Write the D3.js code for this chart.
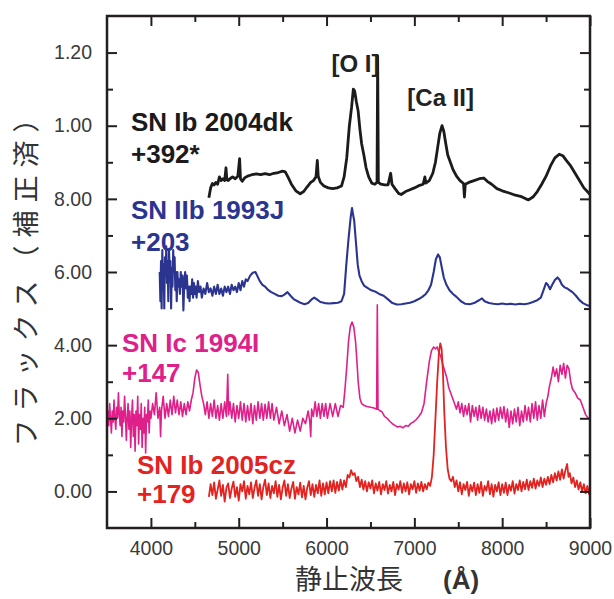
<!DOCTYPE html>
<html><head><meta charset="utf-8">
<script src="https://cdn.jsdelivr.net/npm/d3@7"></script>
<style>
html,body{margin:0;padding:0;background:#fff;}
svg{display:block;}
</style></head>
<body>
<svg id="chart" width="614" height="599"></svg>
<script>
// ---- data (wavelength Å, normalized flux) ----
const sn2004dk = [[4660,0.803],[4680,0.83],[4700,0.842],[4720,0.838],[4740,0.845],[4760,0.84],[4780,0.86],[4800,0.85],[4820,0.855],[4840,0.85],[4855,0.885],[4865,0.852],[4880,0.85],[4900,0.855],[4930,0.86],[4960,0.855],[4990,0.862],[5010,0.91],[5020,0.855],[5040,0.848],[5070,0.858],[5100,0.862],[5150,0.866],[5200,0.868],[5250,0.866],[5300,0.869],[5350,0.866],[5400,0.87],[5450,0.872],[5500,0.876],[5530,0.874],[5560,0.86],[5600,0.84],[5650,0.822],[5700,0.814],[5740,0.82],[5780,0.833],[5820,0.845],[5850,0.85],[5880,0.86],[5895,0.905],[5905,0.862],[5930,0.845],[5970,0.835],[6020,0.83],[6070,0.828],[6120,0.83],[6170,0.835],[6200,0.86],[6230,0.912],[6260,1.0],[6285,1.05],[6305,1.1],[6320,1.095],[6340,1.065],[6360,1.04],[6380,0.99],[6400,0.95],[6425,0.92],[6450,0.885],[6480,0.86],[6515,0.843],[6550,0.84],[6575,0.845],[6582,1.19],[6590,0.845],[6620,0.84],[6660,0.838],[6700,0.838],[6730,0.87],[6745,0.84],[6780,0.828],[6820,0.815],[6850,0.812],[6900,0.82],[6950,0.825],[7000,0.83],[7050,0.836],[7100,0.84],[7120,0.86],[7130,0.843],[7170,0.85],[7210,0.87],[7240,0.9],[7265,0.94],[7290,0.98],[7315,1.0],[7335,0.985],[7355,0.955],[7380,0.92],[7410,0.9],[7440,0.88],[7480,0.862],[7520,0.85],[7560,0.842],[7570,0.805],[7580,0.84],[7620,0.845],[7680,0.85],[7740,0.855],[7790,0.857],[7830,0.848],[7880,0.84],[7940,0.828],[8000,0.822],[8080,0.816],[8150,0.81],[8220,0.806],[8270,0.8],[8300,0.797],[8350,0.805],[8400,0.82],[8450,0.84],[8500,0.862],[8550,0.89],[8600,0.912],[8650,0.922],[8690,0.918],[8730,0.905],[8780,0.89],[8830,0.87],[8880,0.85],[8930,0.83],[8970,0.82],[9000,0.812]];

const sn1993J = [[4100,0.6],[4108,0.52],[4115,0.63],[4122,0.5],[4130,0.66],[4138,0.55],[4145,0.62],[4152,0.5],[4160,0.64],[4168,0.6],[4175,0.67],[4183,0.57],[4190,0.63],[4198,0.52],[4206,0.66],[4214,0.6],[4222,0.63],[4230,0.5],[4238,0.61],[4246,0.56],[4254,0.66],[4262,0.6],[4270,0.64],[4278,0.55],[4286,0.6],[4294,0.52],[4302,0.6],[4310,0.56],[4320,0.58],[4330,0.54],[4340,0.6],[4350,0.56],[4360,0.59],[4370,0.495],[4380,0.57],[4390,0.6],[4400,0.555],[4410,0.59],[4420,0.53],[4430,0.56],[4440,0.52],[4450,0.56],[4460,0.54],[4470,0.58],[4480,0.53],[4490,0.57],[4500,0.54],[4510,0.56],[4520,0.53],[4535,0.575],[4550,0.545],[4565,0.56],[4580,0.53],[4600,0.555],[4620,0.54],[4640,0.57],[4660,0.545],[4680,0.555],[4700,0.535],[4720,0.56],[4740,0.54],[4760,0.565],[4780,0.54],[4800,0.555],[4820,0.535],[4840,0.56],[4860,0.545],[4880,0.56],[4900,0.54],[4920,0.565],[4940,0.55],[4960,0.56],[4980,0.545],[5000,0.57],[5020,0.55],[5040,0.575],[5060,0.56],[5080,0.58],[5100,0.575],[5130,0.59],[5160,0.598],[5190,0.6],[5210,0.59],[5240,0.575],[5270,0.565],[5300,0.56],[5330,0.552],[5370,0.545],[5410,0.54],[5450,0.535],[5490,0.534],[5520,0.538],[5555,0.545],[5590,0.535],[5630,0.525],[5670,0.52],[5710,0.515],[5750,0.512],[5790,0.515],[5830,0.525],[5860,0.53],[5890,0.525],[5930,0.518],[5980,0.515],[6030,0.514],[6080,0.515],[6130,0.516],[6170,0.52],[6200,0.54],[6225,0.62],[6250,0.69],[6275,0.75],[6290,0.775],[6300,0.76],[6315,0.74],[6335,0.68],[6355,0.62],[6375,0.59],[6400,0.575],[6430,0.562],[6470,0.556],[6510,0.55],[6550,0.547],[6600,0.54],[6650,0.535],[6700,0.525],[6750,0.515],[6800,0.511],[6850,0.512],[6900,0.514],[6950,0.516],[7000,0.52],[7050,0.526],[7090,0.532],[7130,0.54],[7160,0.55],[7190,0.565],[7220,0.6],[7245,0.635],[7270,0.648],[7290,0.64],[7310,0.615],[7335,0.585],[7365,0.565],[7400,0.55],[7440,0.54],[7480,0.532],[7530,0.52],[7580,0.513],[7630,0.512],[7680,0.515],[7730,0.522],[7770,0.528],[7800,0.52],[7850,0.515],[7900,0.513],[7950,0.512],[8000,0.514],[8050,0.512],[8100,0.513],[8150,0.511],[8200,0.513],[8250,0.512],[8300,0.514],[8350,0.518],[8400,0.523],[8440,0.53],[8470,0.55],[8500,0.57],[8520,0.565],[8545,0.553],[8570,0.565],[8600,0.578],[8630,0.585],[8655,0.578],[8680,0.565],[8710,0.558],[8740,0.555],[8770,0.55],[8800,0.545],[8840,0.535],[8880,0.523],[8920,0.515],[8960,0.51],[9000,0.507]];

const sn1994I = [[3500,0.2],[3510,0.22],[3520,0.18],[3530,0.24],[3540,0.2],[3550,0.16],[3560,0.22],[3570,0.19],[3580,0.25],[3590,0.2],[3600,0.17],[3610,0.23],[3620,0.2],[3630,0.27],[3640,0.21],[3650,0.18],[3660,0.23],[3670,0.15],[3680,0.22],[3690,0.19],[3700,0.26],[3710,0.21],[3720,0.14],[3730,0.2],[3740,0.24],[3750,0.17],[3760,0.22],[3770,0.12],[3780,0.2],[3790,0.25],[3800,0.15],[3810,0.21],[3820,0.11],[3830,0.22],[3840,0.18],[3850,0.26],[3860,0.13],[3870,0.21],[3880,0.17],[3890,0.24],[3900,0.12],[3910,0.2],[3920,0.16],[3930,0.23],[3940,0.105],[3950,0.21],[3960,0.19],[3970,0.25],[3980,0.16],[3990,0.22],[4000,0.2],[4020,0.24],[4040,0.21],[4060,0.27],[4080,0.2],[4100,0.23],[4110,0.15],[4120,0.22],[4140,0.26],[4160,0.2],[4180,0.24],[4200,0.205],[4220,0.25],[4240,0.21],[4260,0.26],[4280,0.215],[4300,0.25],[4320,0.21],[4340,0.245],[4360,0.205],[4380,0.24],[4400,0.21],[4420,0.245],[4440,0.22],[4460,0.25],[4480,0.27],[4500,0.31],[4520,0.332],[4540,0.325],[4560,0.29],[4580,0.26],[4600,0.24],[4620,0.21],[4640,0.245],[4660,0.2],[4680,0.24],[4700,0.205],[4720,0.25],[4740,0.2],[4760,0.235],[4780,0.195],[4800,0.24],[4820,0.2],[4840,0.245],[4860,0.205],[4875,0.32],[4885,0.21],[4900,0.245],[4920,0.2],[4940,0.24],[4960,0.19],[4980,0.235],[5000,0.2],[5020,0.245],[5040,0.195],[5060,0.24],[5080,0.19],[5100,0.235],[5120,0.195],[5140,0.24],[5160,0.185],[5180,0.235],[5200,0.195],[5220,0.245],[5240,0.2],[5260,0.24],[5280,0.195],[5300,0.238],[5320,0.2],[5340,0.245],[5360,0.2],[5380,0.24],[5400,0.195],[5430,0.23],[5460,0.185],[5490,0.22],[5520,0.18],[5550,0.21],[5580,0.165],[5610,0.2],[5640,0.16],[5670,0.195],[5700,0.165],[5730,0.2],[5760,0.185],[5790,0.22],[5810,0.19],[5820,0.15],[5830,0.225],[5850,0.205],[5870,0.245],[5890,0.205],[5910,0.24],[5930,0.2],[5950,0.24],[5970,0.205],[5990,0.24],[6010,0.2],[6040,0.24],[6070,0.205],[6100,0.24],[6130,0.205],[6160,0.235],[6190,0.23],[6210,0.28],[6230,0.34],[6250,0.41],[6270,0.45],[6290,0.463],[6310,0.45],[6330,0.41],[6345,0.36],[6360,0.3],[6380,0.255],[6400,0.24],[6430,0.235],[6460,0.232],[6500,0.23],[6540,0.228],[6570,0.225],[6578,0.51],[6586,0.225],[6600,0.222],[6630,0.218],[6660,0.205],[6690,0.2],[6720,0.192],[6750,0.185],[6780,0.18],[6810,0.176],[6840,0.178],[6870,0.174],[6900,0.18],[6930,0.178],[6960,0.186],[6990,0.19],[7020,0.196],[7050,0.205],[7080,0.215],[7110,0.24],[7140,0.3],[7170,0.355],[7195,0.385],[7220,0.395],[7240,0.39],[7260,0.395],[7280,0.38],[7300,0.37],[7320,0.35],[7345,0.33],[7370,0.31],[7390,0.285],[7420,0.265],[7450,0.245],[7480,0.225],[7500,0.245],[7520,0.215],[7540,0.24],[7560,0.205],[7580,0.235],[7600,0.21],[7620,0.24],[7640,0.19],[7660,0.235],[7680,0.205],[7700,0.23],[7720,0.195],[7740,0.235],[7760,0.2],[7780,0.23],[7800,0.195],[7820,0.225],[7840,0.19],[7860,0.22],[7880,0.185],[7900,0.225],[7920,0.19],[7940,0.228],[7960,0.195],[7980,0.23],[8000,0.2],[8020,0.232],[8040,0.19],[8060,0.225],[8080,0.175],[8100,0.22],[8120,0.185],[8140,0.225],[8160,0.19],[8180,0.23],[8200,0.18],[8220,0.22],[8240,0.19],[8260,0.235],[8280,0.195],[8300,0.23],[8320,0.19],[8340,0.24],[8360,0.2],[8380,0.245],[8400,0.195],[8420,0.235],[8440,0.2],[8460,0.25],[8480,0.205],[8500,0.24],[8520,0.26],[8540,0.29],[8560,0.31],[8580,0.34],[8600,0.315],[8620,0.335],[8640,0.3],[8660,0.345],[8680,0.32],[8700,0.35],[8720,0.31],[8740,0.345],[8760,0.335],[8780,0.3],[8800,0.28],[8830,0.27],[8860,0.255],[8890,0.25],[8920,0.23],[8950,0.21],[8980,0.2],[9000,0.195]];

const sn2005cz = [[4660,-0.015],[4680,0.02],[4700,-0.01],[4720,0.025],[4740,-0.02],[4760,0.005],[4780,0.03],[4800,-0.012],[4820,0.018],[4840,-0.028],[4860,0.01],[4880,0.022],[4900,-0.018],[4920,0.008],[4940,0.027],[4960,-0.015],[4980,0.012],[5000,-0.025],[5020,0.02],[5040,0.0],[5060,0.028],[5080,-0.02],[5100,0.015],[5120,-0.008],[5140,0.025],[5160,-0.018],[5180,0.01],[5200,0.03],[5220,-0.012],[5240,0.02],[5260,-0.022],[5280,0.012],[5300,0.032],[5320,-0.01],[5340,0.022],[5360,-0.018],[5380,0.015],[5400,-0.005],[5420,0.028],[5440,-0.015],[5460,0.018],[5480,-0.022],[5500,0.01],[5520,0.03],[5540,-0.012],[5560,0.02],[5580,-0.018],[5600,0.008],[5620,0.026],[5640,-0.02],[5660,0.012],[5680,-0.008],[5700,0.024],[5720,-0.016],[5740,0.015],[5760,-0.022],[5780,0.01],[5800,0.028],[5820,-0.01],[5840,0.02],[5860,-0.015],[5880,0.018],[5900,-0.005],[5920,0.03],[5940,-0.012],[5960,0.022],[5980,-0.008],[6000,0.025],[6020,-0.005],[6040,0.028],[6060,0.0],[6080,0.03],[6100,-0.004],[6120,0.026],[6140,0.002],[6160,0.032],[6180,0.005],[6200,0.03],[6220,0.012],[6240,0.045],[6260,0.038],[6280,0.058],[6300,0.045],[6320,0.05],[6340,0.028],[6360,0.04],[6380,0.012],[6400,0.032],[6420,0.005],[6440,0.028],[6460,0.0],[6480,0.025],[6500,0.008],[6520,0.03],[6540,-0.005],[6560,0.022],[6580,0.002],[6600,0.026],[6620,-0.008],[6640,0.02],[6660,0.004],[6680,0.028],[6700,-0.006],[6720,0.018],[6740,0.0],[6760,0.026],[6780,-0.01],[6800,0.02],[6820,0.005],[6840,0.028],[6860,-0.004],[6880,0.022],[6900,0.0],[6920,0.025],[6940,-0.008],[6960,0.02],[6980,0.006],[7000,0.028],[7020,-0.004],[7040,0.022],[7060,0.002],[7080,0.026],[7100,0.0],[7120,0.02],[7140,0.006],[7160,0.024],[7180,0.015],[7200,0.04],[7220,0.1],[7240,0.2],[7260,0.3],[7280,0.38],[7295,0.405],[7310,0.39],[7325,0.33],[7340,0.22],[7360,0.12],[7380,0.06],[7400,0.035],[7420,0.028],[7440,0.04],[7460,0.012],[7480,0.03],[7500,0.0],[7520,0.025],[7540,-0.008],[7560,0.02],[7580,0.004],[7600,0.026],[7620,-0.012],[7640,0.018],[7660,0.0],[7680,0.024],[7700,-0.01],[7720,0.02],[7740,-0.004],[7760,0.026],[7780,-0.012],[7800,0.015],[7820,0.002],[7840,0.028],[7860,-0.008],[7880,0.02],[7900,-0.014],[7920,0.018],[7940,0.0],[7960,0.025],[7980,-0.01],[8000,0.02],[8020,-0.004],[8040,0.024],[8060,-0.01],[8080,0.018],[8100,0.002],[8120,0.028],[8140,-0.006],[8160,0.02],[8180,0.004],[8200,0.03],[8220,0.0],[8240,0.026],[8260,0.006],[8280,0.032],[8300,0.004],[8320,0.028],[8340,0.01],[8360,0.035],[8380,0.008],[8400,0.03],[8420,0.015],[8440,0.038],[8460,0.012],[8480,0.035],[8500,0.018],[8520,0.04],[8540,0.02],[8560,0.045],[8580,0.025],[8600,0.05],[8620,0.03],[8640,0.055],[8660,0.032],[8680,0.06],[8700,0.035],[8720,0.058],[8740,0.075],[8755,0.04],[8770,0.05],[8790,0.022],[8810,0.038],[8830,0.012],[8850,0.03],[8870,0.005],[8890,0.025],[8910,0.0],[8930,0.02],[8950,-0.005],[8970,0.015],[8990,-0.008],[9000,0.005]];

const yTickValues = [0, 0.2, 0.4, 0.6, 0.8, 1.0, 1.2];
const yTickLabels = ["0.00", "2.00", "4.00", "6.00", "8.00", "1.00", "1.20"];
const yMinorValues = [0.1, 0.3, 0.5, 0.7, 0.9, 1.1];
const xTickValues = [4000, 5000, 6000, 7000, 8000, 9000];
const xMinorValues = [4500, 5500, 6500, 7500, 8500];

const seriesNames = ["SN Ib 2004dk", "SN IIb 1993J", "SN Ic 1994I", "SN Ib 2005cz"];
const seriesEpochs = ["+392*", "+203", "+147", "+179"];
const seriesData = [sn2004dk, sn1993J, sn1994I, sn2005cz];
const seriesColors = ["#1c1a1a", "#2b3590", "#e0208a", "#e3231f"];
const seriesWidths = [2.8, 2.1, 1.6, 1.8];
const labelPos = [[131, 131, 163], [131, 219, 251], [122, 352, 382], [137, 474, 503]];

const lines = [["[O I]", 6330, 72], ["[Ca II]", 7300, 106]];

// ---- layout ----
const svg = d3.select("#chart");
const L = 107, R = 590, T = 16, B = 528;
const x = d3.scaleLinear().domain([3500, 9000]).range([L, R]);
const y = d3.scaleLinear().domain([-0.1, 1.3]).range([B, T]);

const axisColor = "#231f20";
const labelFont = "'Liberation Sans', Arial, Helvetica, sans-serif";
const cjkFont = "'Noto Sans CJK JP', 'Noto Sans', sans-serif";

svg.append("defs").append("clipPath").attr("id", "plotclip")
  .append("rect").attr("x", L).attr("y", T).attr("width", R - L).attr("height", B - T);

// series
const line = d3.line().x(d => x(d[0])).y(d => y(d[1]));
const g = svg.append("g").attr("clip-path", "url(#plotclip)");
seriesData.forEach((s, i) => {
  g.append("path").datum(s).attr("d", line)
    .attr("fill", "none").attr("stroke", seriesColors[i])
    .attr("stroke-width", seriesWidths[i]).attr("stroke-linejoin", "round");
});

// axes
function styleAxis(sel) {
  sel.select(".domain").remove();
  sel.selectAll(".tick line").attr("stroke", axisColor).attr("stroke-width", 2);
  sel.selectAll(".tick text").attr("fill", "#3a3a3a")
    .style("font-family", labelFont).style("font-size", "19.5px");
}
svg.append("g").attr("transform", `translate(0,${B})`)
  .call(d3.axisBottom(x).tickValues(xTickValues).tickSize(-10).tickPadding(13).tickFormat(d3.format("d")))
  .call(styleAxis);
svg.append("g").attr("transform", `translate(0,${B})`)
  .call(d3.axisBottom(x).tickValues(xMinorValues).tickSize(-6).tickFormat(""))
  .call(styleAxis);
svg.append("g").attr("transform", `translate(0,${T})`)
  .call(d3.axisTop(x).tickValues(xTickValues).tickSize(-10).tickFormat(""))
  .call(styleAxis);
svg.append("g").attr("transform", `translate(0,${T})`)
  .call(d3.axisTop(x).tickValues(xMinorValues).tickSize(-6).tickFormat(""))
  .call(styleAxis);
svg.append("g").attr("transform", `translate(${L},0)`)
  .call(d3.axisLeft(y).tickValues(yTickValues).tickSize(-10).tickPadding(15).tickFormat((d, i) => yTickLabels[i]))
  .call(styleAxis);
svg.append("g").attr("transform", `translate(${L},0)`)
  .call(d3.axisLeft(y).tickValues(yMinorValues).tickSize(-6).tickFormat(""))
  .call(styleAxis);
svg.append("g").attr("transform", `translate(${R},0)`)
  .call(d3.axisRight(y).tickValues(yTickValues).tickSize(-10).tickFormat(""))
  .call(styleAxis);
svg.append("g").attr("transform", `translate(${R},0)`)
  .call(d3.axisRight(y).tickValues(yMinorValues).tickSize(-6).tickFormat(""))
  .call(styleAxis);

svg.append("rect").attr("x", L).attr("y", T).attr("width", R - L).attr("height", B - T)
  .attr("fill", "none").attr("stroke", axisColor).attr("stroke-width", 2.5);

// series labels
seriesNames.forEach((n, i) => {
  const [lx, y1, y2] = labelPos[i];
  const t = svg.append("text").attr("x", lx).attr("y", y1).text(n);
  const t2 = svg.append("text").attr("x", lx).attr("y", y2).text(seriesEpochs[i]);
  [t, t2].forEach(s => s.attr("fill", seriesColors[i]).style("font-family", labelFont)
    .style("font-weight", "bold").style("font-size", "26px"));
});

// line identifications
lines.forEach(([txt, wl, by]) => {
  svg.append("text").attr("x", x(wl)).attr("y", by).attr("text-anchor", "middle")
    .attr("fill", "#222").style("font-family", labelFont).style("font-weight", "bold")
    .style("font-size", "24px").text(txt);
});

// axis titles
svg.append("text").attr("x", 295).attr("y", 589)
  .attr("fill", "#333").style("font-family", cjkFont).style("font-size", "27px")
  .text("静止波長");
svg.append("text").attr("x", 443).attr("y", 589)
  .attr("fill", "#333").style("font-family", labelFont).style("font-weight", "bold").style("font-size", "26px")
  .text("(Å)");
svg.append("text").attr("transform", "translate(36,272) rotate(-90)")
  .attr("text-anchor", "middle")
  .attr("fill", "#333").style("font-family", cjkFont).style("font-size", "27px")
  .style("letter-spacing", "8px")
  .text("フラックス（補正済）");
</script>
</body></html>
